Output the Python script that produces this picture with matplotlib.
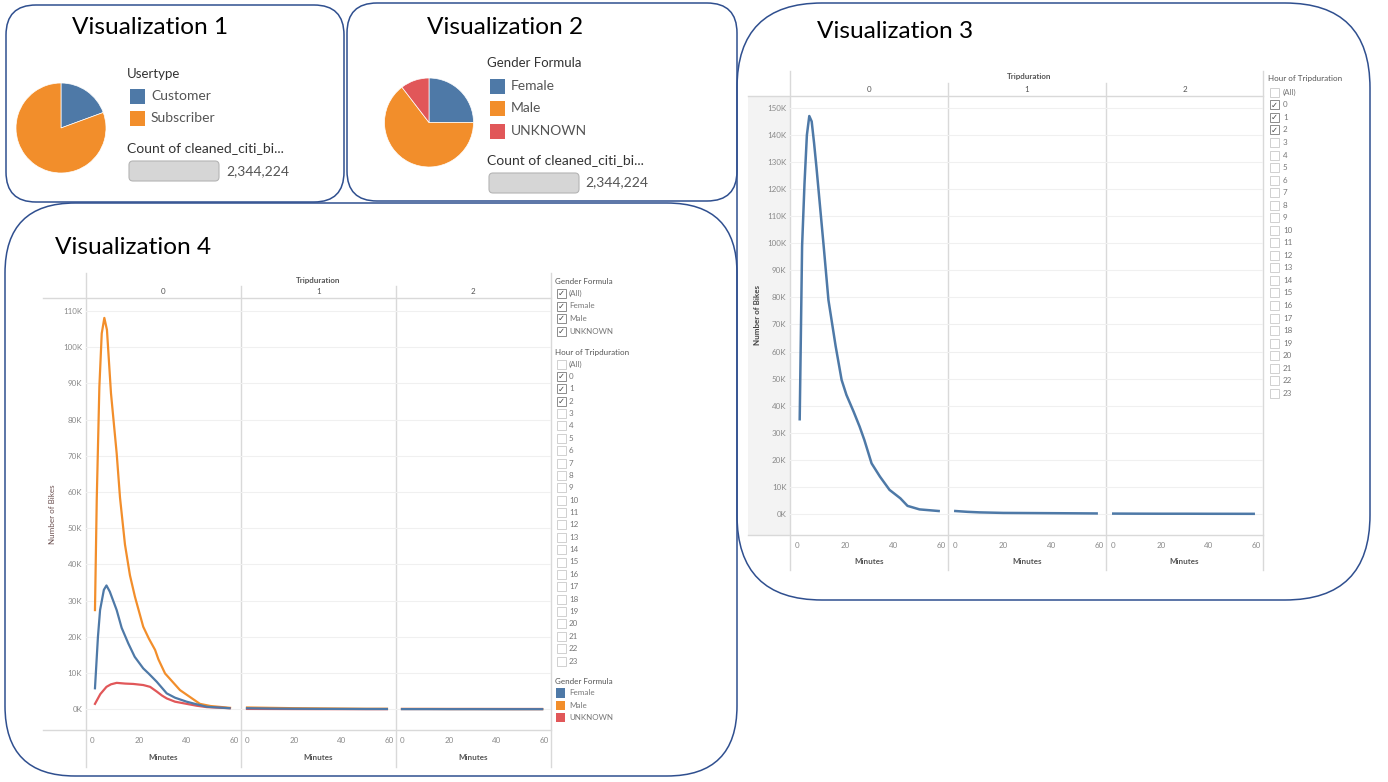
import matplotlib
matplotlib.use('Agg')
import matplotlib.pyplot as plt
from matplotlib.patches import FancyBboxPatch, Rectangle

plt.rcParams['font.family'] = ['Lato', 'DejaVu Sans']

# ---------------- data ----------------
usertype_labels = ['Customer', 'Subscriber']
usertype_share = [19.4, 80.6]
gender_labels = ['Female', 'Male', 'UNKNOWN']
gender_share = [25.0, 64.6, 10.4]
total_count = '2,344,224'

gender_filter = ['(All)', 'Female', 'Male', 'UNKNOWN']
hour_items = ['(All)'] + [str(h) for h in range(24)]
hour_checked = ['0', '1', '2']
panels = ['0', '1', '2']

# visualization 3: number of bikes (thousands) by trip minutes, one panel per hour
v3_min_0 = [1, 2, 3, 4, 5, 6, 7, 8, 11, 13, 16, 18.5, 20.5, 23.5, 26, 28, 31, 34.5, 38.5, 43, 46, 51, 59]
v3_bikes_0 = [35, 99, 122, 140, 147, 145, 137, 128, 99, 79, 62, 49.5, 44, 37.8, 32.3, 27.3, 18.7, 13.8, 8.9, 5.8, 3.0, 1.7, 1.1]
v3_min_1 = [0, 5, 10, 20, 30, 40, 50, 59]
v3_bikes_1 = [1.1, 0.8, 0.6, 0.4, 0.35, 0.3, 0.25, 0.2]
v3_min_2 = [0, 10, 20, 30, 40, 50, 59]
v3_bikes_2 = [0.15, 0.12, 0.1, 0.1, 0.08, 0.07, 0.06]

# visualization 4: same split by gender
male_min_0 = [1.25, 2, 3.1, 4.1, 5.2, 6.3, 8, 10.4, 11.8, 13.9, 16, 18.1, 21.6, 24, 26.6, 28, 30.8, 37.1, 45.5, 50, 58.2]
male_bikes_0 = [27.4, 58, 89, 103.8, 108.1, 104.8, 87.3, 70.7, 58.5, 45.5, 37, 31.1, 22.8, 19.5, 16.4, 13.8, 9.9, 5.3, 1.5, 0.9, 0.4]
female_min_0 = [1.25, 2.5, 3.4, 5, 6.1, 7.5, 10.4, 12.5, 15.3, 18, 21.6, 24, 27.3, 31.5, 35, 39.9, 44, 48.4, 58]
female_bikes_0 = [5.8, 20, 27.4, 33, 34.2, 32.5, 27.4, 22.5, 18.2, 14.5, 11.3, 9.8, 7.6, 4.4, 3.2, 2.1, 1.4, 0.7, 0.3]
unknown_min_0 = [1.25, 3.5, 6.1, 8, 10.4, 14, 17.4, 21.6, 24.5, 27.3, 29.5, 31.5, 35, 39.9, 44, 48.4, 58]
unknown_bikes_0 = [1.5, 4.2, 6.2, 6.9, 7.3, 7.1, 7.0, 6.7, 6.2, 4.9, 3.8, 3.0, 2.1, 1.5, 1.0, 0.6, 0.3]

male_min_1 = [0, 10, 20, 30, 40, 50, 59]
male_bikes_1 = [0.5, 0.4, 0.3, 0.25, 0.2, 0.15, 0.15]
female_min_1 = [0, 10, 20, 30, 40, 50, 59]
female_bikes_1 = [0.3, 0.2, 0.15, 0.12, 0.1, 0.08, 0.08]
unknown_min_1 = [0, 10, 20, 30, 40, 50, 59]
unknown_bikes_1 = [0.1, 0.08, 0.06, 0.05, 0.05, 0.04, 0.04]

male_min_2 = [0, 10, 20, 30, 40, 50, 59]
male_bikes_2 = [0.1, 0.1, 0.08, 0.08, 0.07, 0.06, 0.06]
female_min_2 = [0, 10, 20, 30, 40, 50, 59]
female_bikes_2 = [0.05, 0.05, 0.04, 0.04, 0.03, 0.03, 0.03]
unknown_min_2 = [0, 10, 20, 30, 40, 50, 59]
unknown_bikes_2 = [0.02, 0.02, 0.02, 0.02, 0.02, 0.02, 0.02]

BLUE = '#4e79a7'
ORANGE = '#f28e2b'
RED = '#e15759'
BORDER = '#2f4f8f'
DIV = '#d9d9d9'
TICK = '#8a8a8a'
LABEL = '#555555'

W, H = 1388, 782
fig = plt.figure(figsize=(W / 100, H / 100), dpi=100)
fig.patch.set_facecolor('white')

# background layer in pixel units (y down)
bg = fig.add_axes([0, 0, 1, 1], zorder=0)
bg.set_xlim(0, W)
bg.set_ylim(H, 0)
bg.axis('off')


def px_axes(x0, y0, x1, y1, z=1):
    ax = fig.add_axes([x0 / W, 1 - y1 / H, (x1 - x0) / W, (y1 - y0) / H], zorder=z)
    ax.set_facecolor('none')
    return ax


def box(x0, y0, x1, y1, r):
    bg.add_patch(FancyBboxPatch((x0, y0), x1 - x0, y1 - y0,
                                boxstyle='round,pad=0,rounding_size=%d' % r,
                                fc='none', ec=BORDER, lw=1.1))


def vline(x, y0, y1):
    bg.plot([x, x], [y0, y1], color=DIV, lw=1.0)


def hline(y, x0, x1):
    bg.plot([x0, x1], [y, y], color=DIV, lw=1.0)


def checkbox(x, y, checked):
    bg.add_patch(Rectangle((x, y - 4.5), 9, 9, fc='white',
                           ec='#8c8c8c' if checked else '#d0d0d0', lw=0.7))
    if checked:
        bg.text(x + 4.5, y + 0.3, '\u2713', fontsize=6, color='#444444',
                ha='center', va='center', family='DejaVu Sans')


def count_bar(x0, y0, x1, y1, tx, ty):
    bg.add_patch(FancyBboxPatch((x0, y0), x1 - x0, y1 - y0,
                                boxstyle='round,pad=0,rounding_size=4',
                                fc='#d6d6d6', ec='#b5b5b5', lw=0.8))
    bg.text(tx, ty, total_count, fontsize=10, color=LABEL, va='center')


# ---------------- boxes and titles ----------------
box(6, 5, 344, 202, 30)
box(347, 3, 737, 201, 30)
box(737, 3, 1370, 600, 85)
box(5, 203, 737, 776, 70)

bg.text(72, 27, 'Visualization 1', fontsize=17.6, color='black', va='center')
bg.text(427, 27, 'Visualization 2', fontsize=17.6, color='black', va='center')
bg.text(817, 31, 'Visualization 3', fontsize=17.6, color='black', va='center')
bg.text(55, 248, 'Visualization 4', fontsize=17.6, color='black', va='center')

# ---------------- visualization 1 ----------------
ax1 = px_axes(16, 83, 106, 173)
ax1.pie(usertype_share, colors=[BLUE, ORANGE], startangle=90, counterclock=False,
        wedgeprops=dict(linewidth=0.5, edgecolor='white'))
ax1.set_xlim(-1, 1)
ax1.set_ylim(-1, 1)

bg.text(127, 74, 'Usertype', fontsize=9.5, color='#333333', va='center')
for i, lab in enumerate(usertype_labels):
    y = 96 + 22.5 * i
    bg.add_patch(Rectangle((130, y - 7.5), 15.5, 15, fc=[BLUE, ORANGE][i], ec='none'))
    bg.text(151, y, lab, fontsize=10, color=LABEL, va='center')
bg.text(127, 148, 'Count of cleaned_citi_bi...', fontsize=10, color='#333333', va='center')
count_bar(129, 161, 219, 181, 226, 171)

# ---------------- visualization 2 ----------------
ax2 = px_axes(384.5, 78, 473.5, 167)
ax2.pie(gender_share, colors=[BLUE, ORANGE, RED], startangle=90, counterclock=False,
        wedgeprops=dict(linewidth=0.5, edgecolor='white'))
ax2.set_xlim(-1, 1)
ax2.set_ylim(-1, 1)

bg.text(487, 63, 'Gender Formula', fontsize=9.5, color='#333333', va='center')
for i, lab in enumerate(gender_labels):
    y = 86 + 22.5 * i
    bg.add_patch(Rectangle((490, y - 7.5), 15.5, 15, fc=[BLUE, ORANGE, RED][i], ec='none'))
    bg.text(511, y, lab, fontsize=10, color=LABEL, va='center')
bg.text(487, 160, 'Count of cleaned_citi_bi...', fontsize=10, color='#333333', va='center')
count_bar(489, 173, 579, 193, 585, 182)


def style_panel(ax, xlim, ylim, ticks, first):
    ax.set_xlim(*xlim)
    ax.set_ylim(*ylim)
    ax.set_xticks([0, 20, 40, 60])
    ax.set_yticks(ticks)
    ax.set_yticklabels(['%dK' % t for t in ticks] if first else [])
    ax.tick_params(length=0, labelsize=5.8, labelcolor=TICK, pad=2.5)
    ax.tick_params(axis='x', pad=5)
    ax.grid(axis='y', color='#f0f0f0', lw=0.8)
    ax.set_axisbelow(True)
    for s in ax.spines.values():
        s.set_visible(False)


# ---------------- visualization 3 ----------------
bg.add_patch(Rectangle((748, 96), 42, 439, fc='#f3f3f3', ec='none'))
v3_edges = [790, 948, 1106, 1263]
v3_data = [(v3_min_0, v3_bikes_0), (v3_min_1, v3_bikes_1), (v3_min_2, v3_bikes_2)]
for i in range(3):
    ax = px_axes(v3_edges[i], 96, v3_edges[i + 1], 535)
    ax.plot(v3_data[i][0], v3_data[i][1], color=BLUE, lw=1.8)
    style_panel(ax, (-3.05, 62.9), (-7.76, 154.4), list(range(0, 160, 10)), i == 0)
    cx = (v3_edges[i] + v3_edges[i + 1]) / 2
    bg.text(cx, 90, panels[i], fontsize=5.8, color=LABEL, ha='center', va='center')
    bg.text(cx, 562, 'Minutes', fontsize=5.8, color=LABEL, ha='center', va='center',
            fontweight='bold')
bg.text(1029, 77, 'Tripduration', fontsize=5.8, color=LABEL, ha='center', va='center',
        fontweight='bold')
bg.text(758, 315, 'Number of Bikes', fontsize=5.8, color='#444444', rotation=90,
        ha='center', va='center', fontweight='bold')
hline(96, 748, 1263)
hline(535, 748, 1263)
vline(790, 71, 570)
vline(948, 83, 570)
vline(1106, 83, 570)
vline(1263, 71, 570)

bg.text(1268, 79, 'Hour of Tripduration', fontsize=5.8, color=LABEL, va='center')
for i, lab in enumerate(hour_items):
    y = 92.3 + 12.54 * i
    checkbox(1270, y, lab in hour_checked)
    bg.text(1283, y, lab, fontsize=5.8, color='#777777', va='center')

# ---------------- visualization 4 ----------------
v4_edges = [85.7, 240.7, 395.7, 551]
v4_data = [
    [(male_min_0, male_bikes_0, ORANGE), (unknown_min_0, unknown_bikes_0, RED), (female_min_0, female_bikes_0, BLUE)],
    [(male_min_1, male_bikes_1, ORANGE), (unknown_min_1, unknown_bikes_1, RED), (female_min_1, female_bikes_1, BLUE)],
    [(male_min_2, male_bikes_2, ORANGE), (unknown_min_2, unknown_bikes_2, RED), (female_min_2, female_bikes_2, BLUE)],
]
for i in range(3):
    ax = px_axes(v4_edges[i], 298, v4_edges[i + 1], 730)
    for xs, ys, c in v4_data[i]:
        ax.plot(xs, ys, color=c, lw=1.6)
    style_panel(ax, (-2.66, 62.7), (-5.72, 113.6), list(range(0, 120, 10)), i == 0)
    cx = (v4_edges[i] + v4_edges[i + 1]) / 2
    bg.text(cx, 292, panels[i], fontsize=5.8, color=LABEL, ha='center', va='center')
    bg.text(cx, 757, 'Minutes', fontsize=5.8, color=LABEL, ha='center', va='center',
            fontweight='bold')
bg.text(318, 280, 'Tripduration', fontsize=5.8, color=LABEL, ha='center', va='center',
        fontweight='bold')
bg.text(53, 514, 'Number of Bikes', fontsize=5.8, color='#6b4f4f', rotation=90,
        ha='center', va='center')
hline(298, 43, 551)
hline(730, 43, 551)
vline(85.7, 273, 767)
vline(240.7, 286, 767)
vline(395.7, 286, 767)
vline(551, 273, 767)

bg.text(555, 282, 'Gender Formula', fontsize=5.8, color=LABEL, va='center')
for i, lab in enumerate(gender_filter):
    y = 293.5 + 12.5 * i
    checkbox(557, y, True)
    bg.text(569, y, lab, fontsize=5.8, color='#777777', va='center')
bg.text(555, 352, 'Hour of Tripduration', fontsize=5.8, color=LABEL, va='center')
for i, lab in enumerate(hour_items):
    y = 364 + 12.375 * i
    checkbox(557, y, lab in hour_checked)
    bg.text(569, y, lab, fontsize=5.8, color='#777777', va='center')
bg.text(555, 681, 'Gender Formula', fontsize=5.8, color=LABEL, va='center')
for i, lab in enumerate(gender_labels):
    y = 692.7 + 12.3 * i
    bg.add_patch(Rectangle((556, y - 4.5), 9.5, 9.5, fc=[BLUE, ORANGE, RED][i], ec='none'))
    bg.text(569, y, lab, fontsize=5.8, color='#777777', va='center')

fig.savefig('out.png', dpi=100)
